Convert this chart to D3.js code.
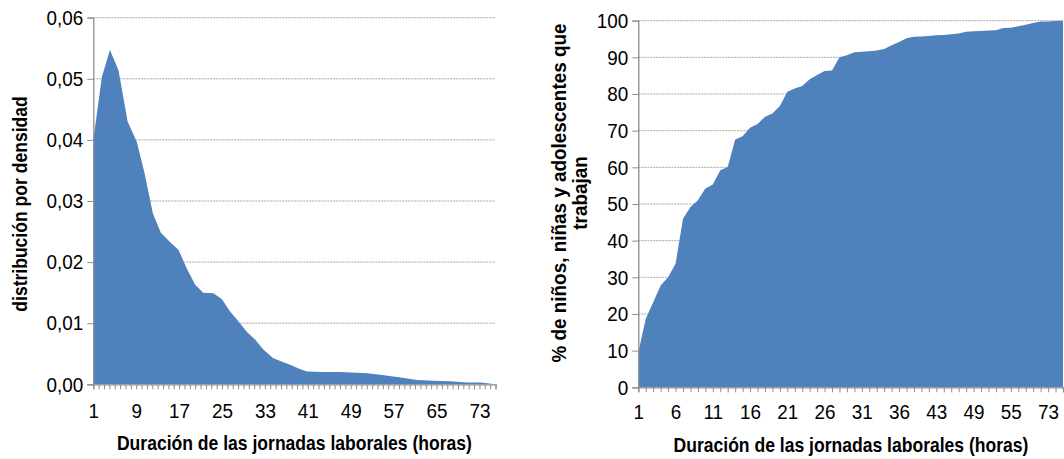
<!DOCTYPE html>
<html><head><meta charset="utf-8">
<script src="https://cdn.jsdelivr.net/npm/d3@7"></script>
<style>
body{margin:0;background:#fff;}
text{font-family:"Liberation Sans",Arial,sans-serif;fill:#000;}
</style></head>
<body>
<svg id="c" width="1064" height="459"></svg>
<script>
// ---------- Left chart data (density) ----------
const hoursL = [1, 2.6, 4.1, 5.7, 7.4, 9.1, 10.5, 12.1, 13.6, 15.3, 16.9, 18.4, 20.0, 21.5, 23.4, 25.0, 26.5, 27.9, 29.6, 31.2, 32.7, 34.5, 36.2, 37.7, 39.3, 40.8, 43.9, 47.1, 52.1, 55.2, 58.3, 61.4, 64.5, 67.6, 70.7, 73.2, 76];
const densL = [0.0400, 0.0503, 0.0547, 0.0514, 0.0430, 0.0397, 0.0348, 0.0280, 0.0248, 0.0233, 0.0220, 0.0190, 0.0163, 0.0150, 0.0149, 0.0139, 0.0119, 0.0105, 0.0086, 0.0073, 0.0057, 0.0043, 0.0037, 0.0032, 0.0026, 0.0021, 0.0020, 0.0020, 0.0018, 0.0015, 0.0011, 0.0007, 0.0006, 0.0005, 0.0003, 0.0003, 0.0000];
const catsL = d3.range(1, 77);               // hour categories 1..76
const tickLabelsL = [1, 9, 17, 25, 33, 41, 49, 57, 65, 73];
const yTicksL = [0, 0.01, 0.02, 0.03, 0.04, 0.05, 0.06];

// ---------- Right chart data (cumulative %) ----------
const catsR = ["1","2","3","4","5","6","7","8","9","10","11","12","13","14","15","16","17","18","19","20","21","22","23","24","25","26","27","28","29","30","31","32","33","34","35","36","37","38","40","42","43","44","45","46","48","49","50","51","52","54","55","56","60","63","70","73","75","76"];
const pctR = [9.5, 18.7, 23.2, 27.8, 30.0, 33.7, 46.0, 49.2, 51.0, 54.2, 55.3, 59.2, 60.1, 67.6, 68.5, 70.8, 71.8, 73.8, 74.7, 76.7, 80.6, 81.5, 82.2, 84.0, 85.2, 86.3, 86.4, 90.0, 90.6, 91.4, 91.5, 91.7, 91.9, 92.3, 93.3, 94.2, 95.2, 95.6, 95.7, 95.8, 96.0, 96.1, 96.3, 96.5, 97.0, 97.1, 97.2, 97.3, 97.4, 98.0, 98.1, 98.5, 98.9, 99.4, 99.8, 99.8, 99.9, 100];
const tickLabelsR = ["1","6","11","16","21","26","31","36","43","49","55","73"];
const yTicksR = [0, 10, 20, 30, 40, 50, 60, 70, 80, 90, 100];

const xTitle = "Duración de las jornadas laborales (horas)";
const yTitleL = "distribución por densidad";
const yTitleR = ["% de niños, niñas y adolescentes que", "trabajan"];

const BLUE = "#4F81BD", GRID = "#a6a6a6", AXIS = "#8e8e8e";
const TICK_FS = 21, TICK_SX = 0.9;       // condensed look of the original labels
const TITLE_FS = 19.5, TITLE_SX = 0.9;
const svg = d3.select("#c");

function grid(g, y, ticks, x0, x1){
  g.selectAll(".gl").data(ticks.filter(t => t !== 0)).join("line")
    .attr("x1", x0).attr("x2", x1).attr("y1", d => y(d)).attr("y2", d => y(d))
    .attr("stroke", GRID).attr("stroke-width", 1).attr("stroke-dasharray", "2,1");
}
function styleAxes(ya, xa, xLabelY){
  [ya, xa].forEach(a => {
    a.attr("font-family", null).attr("font-size", null);
    a.select(".domain").attr("stroke", AXIS).attr("stroke-width", 1.3);
    a.selectAll(".tick line").attr("stroke", AXIS);
    a.selectAll("text").style("font-size", TICK_FS + "px").attr("fill", "#000");
  });
  ya.selectAll(".tick text").attr("x", -10 / TICK_SX).attr("transform", `scale(${TICK_SX},1)`);
  xa.selectAll(".tick text").attr("dy", null).attr("y", xLabelY).attr("transform", `scale(${TICK_SX},1)`);
}
function title(g, tx, ty, rot, fs, lines, lh){
  const t = g.append("text")
    .attr("transform", `translate(${tx},${ty}) rotate(${rot}) scale(${TITLE_SX},1)`)
    .attr("text-anchor", "middle").style("font-size", fs + "px").style("font-weight", "bold");
  lines.forEach((s, i) => t.append("tspan").attr("x", 0).attr("y", i * lh).text(s));
}

// ---------- LEFT ----------
{
  const x0 = 93.3, x1 = 495.5, yB = 384.3, yT = 17.7;
  const x = d3.scaleLinear().domain([1, 76]).range([x0, x1]);
  const y = d3.scaleLinear().domain([0, 0.06]).range([yB, yT]);
  const g = svg.append("g");
  grid(g, y, yTicksL, x0, x1);
  const area = d3.area().x((d, i) => x(hoursL[i])).y0(y(0)).y1(d => y(d));
  g.append("path").datum(densL).attr("d", area).attr("fill", BLUE);

  const yAx = d3.axisLeft(y).tickValues(yTicksL).tickSize(6).tickPadding(4)
    .tickFormat(d => d3.format(".2f")(d).replace(".", ","));
  const ya = g.append("g").attr("transform", `translate(${x0},0)`).call(yAx);
  const xAx = d3.axisBottom(x).tickValues(catsL).tickSize(5).tickFormat(d => tickLabelsL.includes(d) ? d : "");
  const xa = g.append("g").attr("transform", `translate(0,${yB})`).call(xAx);
  styleAxes(ya, xa, 34);
  title(g, (x0 + x1) / 2, 450, 0, TITLE_FS, [xTitle], 0);
  title(g, 27, (yT + yB) / 2 + 3, -90, TITLE_FS, [yTitleL], 0);
}

// ---------- RIGHT ----------
{
  const x0 = 638.3, x1 = 1063.0, yB = 387.3, yT = 20.7;
  const x = d3.scalePoint().domain(catsR).range([x0, x1]);
  const y = d3.scaleLinear().domain([0, 100]).range([yB, yT]);
  const g = svg.append("g");
  grid(g, y, yTicksR, x0, 1064);
  const area = d3.area().x((d, i) => x(catsR[i])).y0(y(0)).y1(d => y(d));
  g.append("path").datum(pctR).attr("d", area).attr("fill", BLUE);

  const yAx = d3.axisLeft(y).tickValues(yTicksR).tickSize(6).tickPadding(4);
  const ya = g.append("g").attr("transform", `translate(${x0},0)`).call(yAx);
  const xAx = d3.axisBottom(x).tickSize(5).tickFormat((d, i) => (i % 5 === 0 && tickLabelsR.includes(d)) ? d : "");
  const xa = g.append("g").attr("transform", `translate(0,${yB})`).call(xAx);
  styleAxes(ya, xa, 32);
  title(g, 851, 452, 0, TITLE_FS, [xTitle], 0);
  title(g, 566, 193, -90, 21, yTitleR, 21);
}
</script>
</body></html>
